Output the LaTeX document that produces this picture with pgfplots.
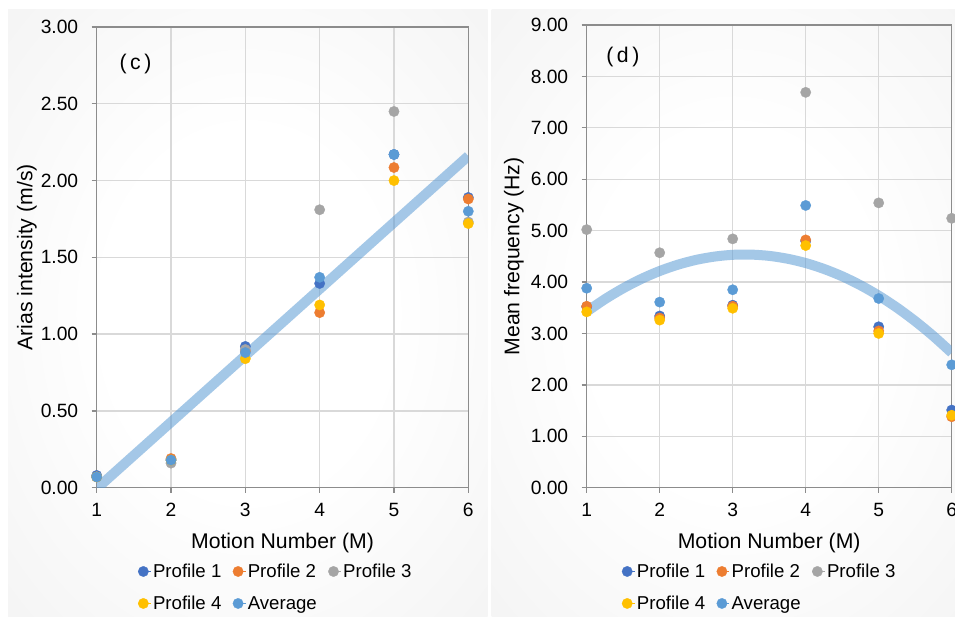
\documentclass[border=0pt]{standalone}
\usepackage{fontspec}
\setmainfont{Liberation Sans}
\usepackage{pgfplots}
\pgfplotsset{compat=1.18}

\definecolor{pOne}{HTML}{4472C4}
\definecolor{pTwo}{HTML}{ED7D31}
\definecolor{pThree}{HTML}{A5A5A5}
\definecolor{pFour}{HTML}{FFC000}
\definecolor{pAvg}{HTML}{5B9BD5}
\definecolor{gridGray}{HTML}{D9D9D9}
\definecolor{frameGray}{HTML}{8C8C8C}
\definecolor{panelGray}{HTML}{EDEDED}

\pgfdeclareradialshading{panelshade}{\pgfpoint{0bp}{0bp}}{%
  color(0bp)=(white); color(15bp)=(white); color(50bp)=(panelGray); color(100bp)=(panelGray)}

\pgfplotsset{
  panel/.style={
    scale only axis,
    xmin=1, xmax=6,
    xtick={1,2,3,4,5,6},
    grid=major,
    major grid style={draw=gridGray, line width=1.3bp},
    axis line style={draw=frameGray, line width=1.3bp},
    tick style={draw=frameGray, line width=1.3bp},
    major tick length=5bp,
    tick align=outside,
    tick pos=left,
    /pgf/number format/assume math mode=true,
    tick label style={font=\fontsize{19.3}{21}\selectfont, text=black},
    xticklabel style={yshift=-7bp},
    yticklabel style={xshift=-10bp, /pgf/number format/.cd, fixed, fixed zerofill, precision=2},
    xlabel style={at={(axis description cs:0.5,-0.12)}, anchor=center,
      font=\fontsize{21.3}{24}\selectfont},
    legend columns=3,
    legend cell align=left,
    legend style={draw=none, fill=none, font=\fontsize{18.7}{20}\selectfont,
      anchor=north west, row sep=13bp,
      /tikz/every even column/.append style={column sep=9.5bp}},
    legend image code/.code={\path (-5bp,0bp) -- (7.5bp,0bp);
      \draw[##1] plot coordinates {(0bp,0bp)};},
    dots/.style={only marks, mark=*, mark size=5.2bp, color=##1,
      mark options={solid, fill=##1, draw=##1, line width=0.3bp}},
    trend/.style={no marks, smooth, draw=pAvg, opacity=0.55, line width=10bp,
      forget plot},
  }
}

\begin{document}
\begin{tikzpicture}
\useasboundingbox (0bp,0bp) rectangle (955bp,617bp);
\clip (0bp,0bp) rectangle (955bp,617bp);
\fill[white] (0bp,0bp) rectangle (955bp,617bp);
\shade[shading=panelshade] (8bp,0bp) rectangle (487.7bp,607bp);
\shade[shading=panelshade] (491.7bp,0bp) rectangle (975bp,607bp);

% Panel (c): Arias intensity
\begin{axis}[panel,
  at={(96.7bp,129.3bp)}, anchor=south west,
  width=371.6bp, height=460.7bp,
  ymin=0, ymax=3, ytick={0,0.5,...,3},
  xlabel={Motion Number (M)},
  ylabel={Arias intensity (m/s)},
  ylabel style={at={(axis description cs:-0.1876,0.5)}, rotate=0, anchor=center,
    font=\fontsize{21.3}{24}\selectfont},
  legend style={at={(axis description cs:0.103,-0.1565)}},
]
\addplot[dots=pOne] coordinates {(1,0.08) (2,0.18) (3,0.92) (4,1.33) (5,2.17) (6,1.89)};
\addlegendentry{Profile 1}
\addplot[dots=pTwo] coordinates {(1,0.07) (2,0.19) (3,0.89) (4,1.14) (5,2.085) (6,1.88)};
\addlegendentry{Profile 2}
\addplot[dots=pThree] coordinates {(1,0.07) (2,0.16) (3,0.90) (4,1.81) (5,2.45) (6,1.73)};
\addlegendentry{Profile 3}
\addplot[dots=pFour] coordinates {(1,0.07) (2,0.18) (3,0.84) (4,1.19) (5,2.00) (6,1.72)};
\addlegendentry{Profile 4}
\addplot[dots=pAvg] coordinates {(1,0.07) (2,0.18) (3,0.88) (4,1.37) (5,2.17) (6,1.80)};
\addlegendentry{Average}
% linear trend of the average
\addplot[trend, sharp plot] coordinates {(1,-0.006) (6,2.16)};
\node[font=\fontsize{21.3}{24}\selectfont] at (rel axis cs:0.1044,0.92) {(\kern3.5bp c\kern3.5bp)};
\end{axis}

% Panel (d): mean frequency
\begin{axis}[panel,
  at={(586.7bp,129.3bp)}, anchor=south west,
  width=365bp, height=462.7bp,
  ymin=0, ymax=9, ytick={0,1,...,9},
  xlabel={Motion Number (M)},
  ylabel={Mean frequency (Hz)},
  ylabel style={at={(axis description cs:-0.1992,0.5)}, rotate=0, anchor=center,
    font=\fontsize{21.3}{24}\selectfont},
  legend style={at={(axis description cs:0.088,-0.1558)}},
]
\addplot[dots=pOne] coordinates {(1,3.52) (2,3.34) (3,3.55) (4,4.80) (5,3.13) (6,1.51)};
\addlegendentry{Profile 1}
\addplot[dots=pTwo] coordinates {(1,3.53) (2,3.30) (3,3.53) (4,4.82) (5,3.05) (6,1.38)};
\addlegendentry{Profile 2}
\addplot[dots=pThree] coordinates {(1,5.02) (2,4.57) (3,4.84) (4,7.69) (5,5.54) (6,5.24)};
\addlegendentry{Profile 3}
\addplot[dots=pFour] coordinates {(1,3.42) (2,3.26) (3,3.49) (4,4.71) (5,3.00) (6,1.41)};
\addlegendentry{Profile 4}
\addplot[dots=pAvg] coordinates {(1,3.88) (2,3.61) (3,3.85) (4,5.49) (5,3.68) (6,2.39)};
\addlegendentry{Average}
% second-order trend of the average
\addplot[trend] coordinates {
  (1,3.425) (1.25,3.667) (1.5,3.879) (1.75,4.062) (2,4.215) (2.25,4.338)
  (2.5,4.432) (2.75,4.495) (3,4.530) (3.25,4.534) (3.5,4.509) (3.75,4.454)
  (4,4.370) (4.25,4.255) (4.5,4.112) (4.75,3.938) (5,3.735) (5.25,3.502)
  (5.5,3.239) (5.75,2.947) (6,2.625)};
\node[font=\fontsize{21.3}{24}\selectfont] at (rel axis cs:0.0992,0.93) {(\kern3.5bp d\kern3.5bp)};
\end{axis}
\end{tikzpicture}
\end{document}
